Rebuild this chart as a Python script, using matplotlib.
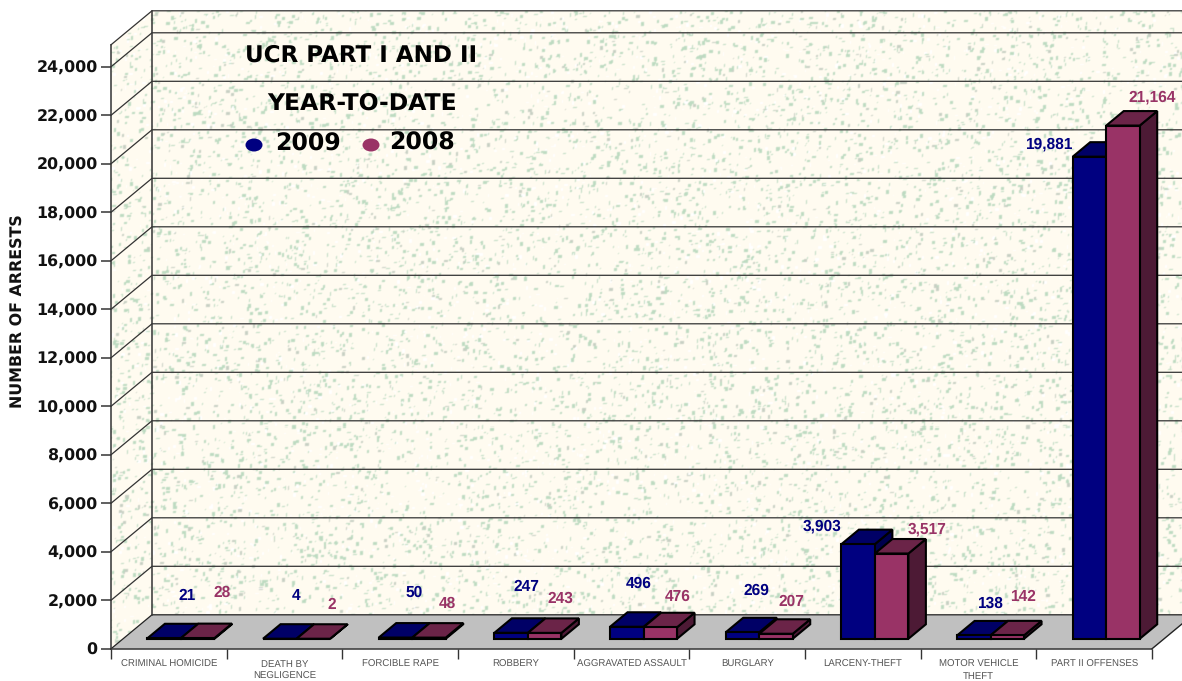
# UCR arrests, fake 3D bar chart
import numpy as np
import matplotlib
matplotlib.use('Agg')
import matplotlib.pyplot as plt
from matplotlib.patches import Polygon, Ellipse, PathPatch
from matplotlib.path import Path
from matplotlib.transforms import Affine2D

plt.rcParams['text.hinting'] = 'none'
plt.rcParams['text.kerning_factor'] = 0

categories = ['CRIMINAL HOMICIDE', 'DEATH BY\nNEGLIGENCE', 'FORCIBLE RAPE', 'ROBBERY',
              'AGGRAVATED ASSAULT', 'BURGLARY', 'LARCENY-THEFT', 'MOTOR VEHICLE\nTHEFT',
              'PART II OFFENSES']
arrests_2009 = [21, 4, 50, 247, 496, 269, 3903, 138, 19881]
arrests_2008 = [28, 2, 48, 243, 476, 207, 3517, 142, 21164]
y_ticks = list(range(0, 24001, 2000))

# where the value labels sit, in image pixels
pos_2009 = [(187, 596), (296, 596), (414, 593), (526, 587), (639, 584), (756, 591), (822, 526), (990, 604), (1049, 144)]
pos_2008 = [(222, 593), (332, 605), (447, 604), (560, 599), (678, 597), (791, 602), (927, 529), (1023, 597), (1152, 97)]

W, H = 1182, 681
BLUE = ('#000080', '#000066', '#00004d')
MAROON = ('#993366', '#6b2448', '#4d1a35')

fig = plt.figure(figsize=(W / 100, H / 100), dpi=100, facecolor='white')
ax = fig.add_axes([111 / W, (H - 648.8) / H, 1041 / W, 604 / H])
ax.patch.set_visible(False)

# image pixels, y going down
px = Affine2D().scale(1, -1).translate(0, H)

# depth of the box, in data units
cat_w = 1041 / 9
val_px = 48.5 / 2000
depth_x = 41 / cat_w
depth_y = 34 / val_px
top_v = 24907


def proj(x, v, d):
    return (x + d * depth_x, v + d * depth_y)


# speckled wall texture (decoration only)
rng = np.random.default_rng(7)
img = np.ones((H, W, 3)) * np.array([255, 251, 240]) / 255
green = np.array([190, 219, 194]) / 255
grey = np.array([200, 208, 196]) / 255
white = np.array([255, 255, 255]) / 255
for i in range(17000):
    x0, y0 = rng.integers(0, W), rng.integers(0, H)
    w, h = rng.integers(1, 5), rng.integers(1, 4)
    if rng.random() < 0.5:
        w, h = h, w
    r = rng.random()
    col = white if r < 0.22 else (grey if r < 0.3 else green)
    img[y0:y0 + h, x0:x0 + w] = col
# soften a little, the reference is a scaled bitmap
img = (img * 2 + np.roll(img, 1, axis=0) + np.roll(img, 1, axis=1)) / 4
img = (img * 2 + np.roll(img, -1, axis=0) + np.roll(img, -1, axis=1)) / 4

wall_pts = [proj(0, 0, 0), proj(0, 0, 1), proj(0, top_v, 1), proj(0, top_v, 0), proj(0, 0, 0),
            proj(0, 0, 1), proj(9, 0, 1), proj(9, top_v, 1), proj(0, top_v, 1), proj(0, 0, 1)]
codes = [Path.MOVETO] + [Path.LINETO] * 3 + [Path.CLOSEPOLY] + [Path.MOVETO] + [Path.LINETO] * 3 + [Path.CLOSEPOLY]
clip = PathPatch(Path(wall_pts, codes), transform=ax.transData, fc='none', ec='none')
ax.add_patch(clip)
clip.set_clip_on(False)
im = ax.imshow(img, extent=[-111 / cat_w, (W - 111) / cat_w, -33 / val_px, 648 / val_px],
               aspect='auto', origin='upper', interpolation='nearest', zorder=0)
im.set_clip_box(fig.bbox)
im.set_clip_path(clip)
ax.set_xlim(0, 9)
ax.set_ylim(0, top_v)

# floor
floor = Polygon([proj(0, 0, 0), proj(0, 0, 1), proj(9, 0, 1), proj(9, 0, 0)],
                closed=True, fc='#c0c0c0', ec='none', clip_on=False, zorder=1)
ax.add_patch(floor)
a, b = proj(9, 0, 0), proj(9, 0, 1)
ax.plot([a[0], b[0]], [a[1], b[1]], color='#222222', lw=1, clip_on=False, zorder=2)

# gridlines on both walls
for v in y_ticks[1:] + [top_v]:
    a, b, c = proj(0, v, 0), proj(0, v, 1), proj(9, v, 1)
    ax.plot([a[0], b[0], c[0]], [a[1], b[1], c[1]], color='#333333', lw=0.9, clip_on=False, zorder=2)
a, b, c = proj(0, 0, 0), proj(0, 0, 1), proj(9, 0, 1)
ax.plot([a[0], b[0], c[0]], [a[1], b[1], c[1]], color='#222222', lw=0.9, clip_on=False, zorder=2)
a, b = proj(0, 0, 1), proj(0, top_v, 1)
ax.plot([a[0], b[0]], [a[1], b[1]], color='#333333', lw=1.1, clip_on=False, zorder=2)

# bars
bar_w = 33.5 / cat_w
d0, d1 = 10 / 34, 24.5 / 34


def draw_bar(x, val, cols, z):
    front = [proj(x, 0, d0), proj(x, val, d0), proj(x + bar_w, val, d0), proj(x + bar_w, 0, d0)]
    top = [proj(x, val, d0), proj(x, val, d1), proj(x + bar_w, val, d1), proj(x + bar_w, val, d0)]
    side = [proj(x + bar_w, 0, d0), proj(x + bar_w, val, d0), proj(x + bar_w, val, d1), proj(x + bar_w, 0, d1)]
    for pts, c in ((side, cols[2]), (top, cols[1]), (front, cols[0])):
        ax.add_patch(Polygon(pts, closed=True, fc=c, ec='black', lw=1.5, joinstyle='miter',
                             clip_on=False, zorder=z))


for i in range(len(categories)):
    c = i + 0.5
    draw_bar(c - bar_w, arrests_2009[i], BLUE, 3 + i * 0.01)
    draw_bar(c, arrests_2008[i], MAROON, 3.005 + i * 0.01)

# axes
for s in ('top', 'right'):
    ax.spines[s].set_visible(False)
for s in ('left', 'bottom'):
    ax.spines[s].set_color('#333333')
    ax.spines[s].set_linewidth(1.1)
    ax.spines[s].set_zorder(4)
ax.set_yticks(y_ticks)
ax.set_yticklabels([f'{t:,}' for t in y_ticks], fontweight='bold', fontsize=11.4, color='#111111')
plt.setp(ax.get_yticklabels(), va='center_baseline')
ax.tick_params(axis='y', length=7.4, width=1.2, color='#444444', pad=2.2)
ax.set_xticks(range(10))
ax.set_xticklabels([])
ax.tick_params(axis='x', which='major', length=7.4, width=1.0, color='#333333')
ax.set_xticks(np.arange(9) + 0.5, minor=True)
ax.set_xticklabels(categories, minor=True, fontsize=6.9, color='#555555', family='Liberation Sans', linespacing=1.35)
ax.tick_params(axis='x', which='minor', length=0, pad=8)
ax.set_ylabel('NUMBER OF ARRESTS', fontsize=11.4, fontweight='bold', color='#111111')
ax.yaxis.set_label_coords(26, 311, transform=px)

# value labels
for vals, pos, col in ((arrests_2009, pos_2009, '#000080'), (arrests_2008, pos_2008, '#993366')):
    for v, (x, y) in zip(vals, pos):
        fig.text(x, y, f'{v:,}', transform=px, color=col, fontsize=11.2, fontweight='bold',
                 family='Liberation Sans', ha='center', va='center', zorder=6)

# title and hand placed legend inside the wall
fig.text(361, 55, 'UCR PART I AND II', transform=px, fontsize=16.6, fontweight='bold', ha='center', va='center', color='black')
fig.text(362, 103, 'YEAR-TO-DATE', transform=px, fontsize=16.9, fontweight='bold', ha='center', va='center', color='black')
fig.text(308, 144, '2009', transform=px, fontsize=17, fontweight='bold', ha='center', va='center', color='black')
fig.text(422, 143, '2008', transform=px, fontsize=17, fontweight='bold', ha='center', va='center', color='black')
fig.add_artist(Ellipse((254, 145), 17, 13, transform=px, fc='#000080', ec='none'))
fig.add_artist(Ellipse((371, 145), 17, 13, transform=px, fc='#993366', ec='none'))

fig.savefig('out.png', dpi=100)
